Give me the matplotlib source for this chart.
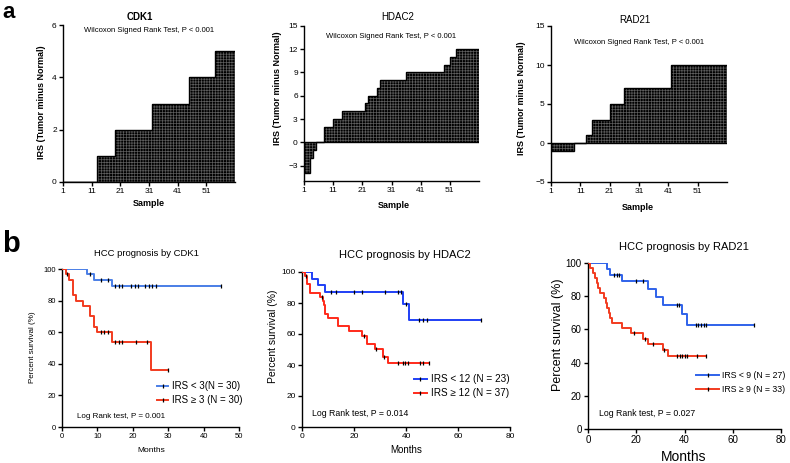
import numpy as np
import matplotlib.pyplot as plt
from matplotlib.lines import Line2D

plt.rcParams['font.family'] = ['Liberation Sans', 'DejaVu Sans']
plt.rcParams['hatch.linewidth'] = 0.5

W, H = 790, 463

# ---- panel a: sorted IRS differences (level, number of samples at that level)
cdk1_levels = [0, 1, 2, 3, 4, 5]
cdk1_counts = [12, 6, 13, 13, 9, 7]
hdac2_levels = [-4, -2, -1, 0, 2, 3, 4, 5, 6, 7, 8, 9, 10, 11, 12]
hdac2_counts = [2, 1, 1, 3, 3, 3, 8, 1, 3, 1, 9, 13, 2, 2, 8]
rad21_levels = [-1, 0, 1, 3, 5, 7, 10]
rad21_counts = [8, 4, 2, 6, 5, 16, 19]
sample_ticks = [1, 11, 21, 31, 41, 51]

# ---- panel b: Kaplan-Meier steps (months, % survival) and censor times
cdk1_lo_t = [0, 7, 9, 14, 45]
cdk1_lo_s = [100, 96.7, 93.3, 89.0, 89.0]
cdk1_lo_c = [8, 11, 13, 15, 16, 17, 19.5, 20.5, 21.5, 23.5, 24.5, 25.5, 26.5, 45]
cdk1_hi_t = [0, 1, 2, 3, 4, 6, 8, 9, 10, 14, 25, 30]
cdk1_hi_s = [100, 96.7, 93.3, 83.3, 80, 76.7, 70, 63.3, 60, 54, 36, 36]
cdk1_hi_c = [1.5, 11, 12, 13, 15, 16, 17, 21, 24, 30]

hdac2_lo_t = [0, 4, 6, 9, 39, 41, 69]
hdac2_lo_s = [100, 95.7, 91.3, 87.0, 79.1, 69.2, 69.2]
hdac2_lo_c = [11, 13, 20, 23, 32, 37, 38, 40, 45, 46.5, 48, 69]
hdac2_hi_t = [0, 1, 2, 3, 7, 8, 8.5, 9, 10, 14, 18, 23, 25, 28, 31, 33, 49]
hdac2_hi_s = [100, 97.3, 92.0, 86.5, 83.8, 81.1, 78.4, 73.0, 70.3, 64.9, 62.2,
              59.0, 53.6, 50.5, 44.9, 41.3, 41.3]
hdac2_hi_c = [1.5, 7.5, 24, 28.5, 31.5, 37, 38.7, 39.7, 40.7, 45.4, 46.4, 49]

rad21_lo_t = [0, 8, 9, 14, 25, 28, 31, 39, 41, 69]
rad21_lo_s = [100, 96.3, 92.6, 88.9, 84.4, 79.4, 74.6, 69.4, 62.5, 62.5]
rad21_lo_c = [10.6, 12, 12.8, 19.8, 22.7, 36.8, 37.9, 44.7, 45.7, 46.8, 47.9, 48.8, 69]
rad21_hi_t = [0, 1, 2, 3, 3.6, 4.3, 5, 6.5, 7.3, 8, 8.5, 9, 10, 14, 18, 23, 25, 31, 33, 49]
rad21_hi_s = [100, 97, 93.9, 90.9, 87.9, 84.8, 81.8, 78.8, 75.8, 72.7, 69.7, 66.7,
              63.6, 60.6, 57.6, 54.5, 51.5, 47.6, 44.1, 44.1]
rad21_hi_c = [19, 23.5, 27, 31.5, 37, 38, 39, 40, 41, 45, 49]

BLUE = '#2f62ea'
RED = '#f23b1f'

fig = plt.figure(figsize=(W / 100, H / 100), dpi=100)


def axes_px(left, top, right, bottom):
    return fig.add_axes([left / W, 1 - bottom / H, (right - left) / W, (bottom - top) / H])


def txt(x, y, s, **kw):
    kw.setdefault('ha', 'center')
    kw.setdefault('va', 'center')
    fig.text(x / W, 1 - y / H, s, **kw)


def style(ax, fs):
    for side in ['top', 'right']:
        ax.spines[side].set_visible(False)
    for side in ['left', 'bottom']:
        ax.spines[side].set_linewidth(1.0)
    ax.tick_params(direction='out', length=3, width=1, labelsize=fs, pad=1.5)


def waterfall(ax, levels, counts, ylim, yticks):
    vals = np.repeat(levels, counts)
    n = len(vals)
    x = np.arange(1, n + 1)
    ax.bar(x, vals, width=1, align='edge', color='black', linewidth=0)
    ax.bar(x, vals, width=1, align='edge', facecolor='none', edgecolor='#5e5e5e',
           hatch='++++++', linewidth=0)
    ax.stairs(vals, np.arange(1, n + 2), baseline=0, color='black', lw=1)
    ax.plot([1, n + 1], [0, 0], color='black', lw=1)
    ax.set_xlim(1, n + 1)
    ax.set_ylim(*ylim)
    ax.set_xticks(sample_ticks)
    ax.set_yticks(yticks)
    style(ax, 6)


def km(ax, t, s, cens, color):
    ax.step(t, s, where='post', color=color, lw=1.4, zorder=3)
    idx = np.searchsorted(t, cens, side='right') - 1
    ax.plot(cens, np.array(s)[idx], ls='none', marker='|', ms=3, mew=0.9,
            color='black', zorder=4)


# ---------------- panel a
a1 = axes_px(63, 25, 235, 182)
waterfall(a1, cdk1_levels, cdk1_counts, (0, 6), [0, 2, 4, 6])
a2 = axes_px(304, 26, 479, 181)
waterfall(a2, hdac2_levels, hdac2_counts, (-5, 15), [-3, 0, 3, 6, 9, 12, 15])
a3 = axes_px(551, 26, 727, 182)
waterfall(a3, rad21_levels, rad21_counts, (-5, 15), [-5, 0, 5, 10, 15])

txt(140, 17, 'CDK1', fontsize=7, fontweight='bold')
txt(398, 17, 'HDAC2', fontsize=7)
txt(635, 20, 'RAD21', fontsize=7)
for x, y in [(149, 30), (391, 37), (639, 42)]:
    txt(x, y, 'Wilcoxon Signed Rank Test, P < 0.001', fontsize=5.5)
for x, y in [(42, 102), (277, 88), (522, 98)]:
    txt(x, y, 'IRS (Tumor minus Normal)', fontsize=6.5, fontweight='bold', rotation=90)
for x, y in [(149, 204), (394, 205), (638, 207)]:
    txt(x, y, 'Sample', fontsize=6.5, fontweight='bold')
txt(2, 18, 'a', fontsize=16, fontweight='bold', ha='left', va='baseline')

# ---------------- panel b
b1 = axes_px(62, 269, 239, 427)
km(b1, cdk1_lo_t, cdk1_lo_s, cdk1_lo_c, '#4a7ee6')
km(b1, cdk1_hi_t, cdk1_hi_s, cdk1_hi_c, RED)
b1.set_xlim(0, 50)
b1.set_xticks([0, 10, 20, 30, 40, 50])

b2 = axes_px(302, 272, 510, 427)
km(b2, hdac2_lo_t, hdac2_lo_s, hdac2_lo_c, '#1f3ff5')
km(b2, hdac2_hi_t, hdac2_hi_s, hdac2_hi_c, '#ff2a1a')
b2.set_xlim(0, 80)
b2.set_xticks([0, 20, 40, 60, 80])

b3 = axes_px(588, 263, 781, 429)
km(b3, rad21_lo_t, rad21_lo_s, rad21_lo_c, BLUE)
km(b3, rad21_hi_t, rad21_hi_s, rad21_hi_c, RED)
b3.set_xlim(0, 80)
b3.set_xticks([0, 20, 40, 60, 80])

for ax, fs in [(b1, 5.5), (b2, 6), (b3, 7)]:
    ax.set_ylim(0, 100)
    ax.set_yticks([0, 20, 40, 60, 80, 100])
    style(ax, fs)

txt(146, 253, 'HCC prognosis by CDK1', fontsize=6.8)
txt(405, 255, 'HCC prognosis by HDAC2', fontsize=8)
txt(684, 247, 'HCC prognosis by RAD21', fontsize=8)
txt(33, 347, 'Percent survival (%)', fontsize=5.8, rotation=90)
txt(273, 336, 'Percent survival (%)', fontsize=7.5, rotation=90)
txt(558, 335, 'Percent survival (%)', fontsize=9, rotation=90)
txt(151, 450, 'Months', fontsize=6)
txt(406, 450, 'Months', fontsize=7)
txt(684, 457, 'Months', fontsize=10)
txt(77, 417, 'Log Rank test, P = 0.001', fontsize=5.8, ha='left')
txt(312, 413, 'Log Rank test, P = 0.014', fontsize=6.3, ha='left')
txt(599, 414, 'Log Rank test, P = 0.027', fontsize=6.3, ha='left')
txt(2, 252, 'b', fontsize=21, fontweight='bold', ha='left', va='baseline')

legends = [
    (157, 168, 172, 386, 400, 7, ['IRS < 3(N = 30)', 'IRS \u2265 3 (N = 30)'], ['#4a7ee6', RED]),
    (414, 427, 431, 379, 393, 7.2, ['IRS < 12 (N = 23)', 'IRS \u2265 12 (N = 37)'], ['#1f3ff5', '#ff2a1a']),
    (696, 719, 722, 375, 389, 6.3, ['IRS < 9 (N = 27)', 'IRS \u2265 9 (N = 33)'], [BLUE, RED]),
]
for x0, x1, xt, y0, y1, fs, labels, colors in legends:
    for y, lab, col in zip([y0, y1], labels, colors):
        fy = 1 - y / H
        fig.add_artist(Line2D([x0 / W, x1 / W], [fy, fy], color=col, lw=1.4,
                              transform=fig.transFigure))
        fig.add_artist(Line2D([(x0 + x1) / 2 / W], [fy], marker='|', ms=3, mew=0.9,
                              color='black', transform=fig.transFigure))
        txt(xt, y, lab, fontsize=fs, ha='left')

fig.savefig('out.png', dpi=100)
